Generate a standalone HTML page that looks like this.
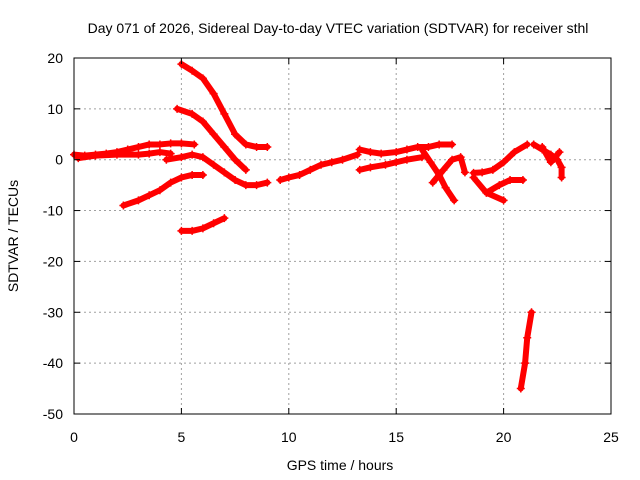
<!DOCTYPE html>
<html><head><meta charset="utf-8"><style>
body{margin:0;background:#fff}
svg{display:block;font-family:"Liberation Sans",sans-serif;font-size:14px}
</style></head><body>
<svg id="chart" width="640" height="480" viewBox="0 0 640 480">
<rect width="640" height="480" fill="#fff"/>
<text x="338" y="33" text-anchor="middle">Day 071 of 2026, Sidereal Day-to-day VTEC variation (SDTVAR) for receiver sthl</text>
<g id="grid"></g>
<g id="series"></g>
<rect x="74" y="58" width="537" height="356" fill="none" stroke="#000"/>
<g id="axes"></g>
<text x="340" y="470" text-anchor="middle">GPS time / hours</text>
<text transform="translate(18,236) rotate(-90)" text-anchor="middle">SDTVAR / TECUs</text>
</svg>
<script>
const xTicks=[0,5,10,15,20,25];
const yTicks=[20,10,0,-10,-20,-30,-40,-50];
const trackNames=["a","b","c","d","e","f","g","h","i","j","k","l","m","n","o","p","q","r"];
const trackX=[
[0,0.5,1,1.5,2,2.5,3,3.5,4,4.5,5,5.6],
[0.2,1,2,3,3.5,4,4.5],
[4.3,5,5.5,6,6.5,7,7.5,8,8.5,9],
[5,5.5,6,6.5,7,7.5,8,8.5,9],
[4.8,5.5,6,6.5,7,7.5,8],
[2.3,3,3.5,4,4.5,5,5.5,6],
[5,5.5,6,6.5,7],
[9.6,10,10.5,11,11.5,12,12.5,13.2],
[13.3,13.8,14.5,15,15.5,16.2],
[13.3,13.8,14.3,15,15.5,16,16.5,17,17.6],
[16.2,16.6,17,17.3,17.7],
[16.7,17.2,17.6,18,18.2],
[18.6,19,19.5,20,20.5,21.1],
[21.4,21.8,22.2,22.5,22.7,22.7],
[18.6,19.2,20],
[19.2,19.8,20.3,20.9],
[21.8,22.2,22.6],
[20.8,21,21.1,21.3]
];
const trackY=[
[1,0.8,1,1.2,1.5,2,2.5,3,3,3.2,3.2,3],
[0.3,0.8,1,1,1.2,1.5,1.2],
[0,0.5,1,0.5,-1,-2.5,-4,-5,-5,-4.5],
[18.8,17.5,16,13,9,5,3,2.5,2.5],
[10,9,7.5,5,2.5,0,-2],
[-9,-8,-7,-6,-4.5,-3.5,-3,-3],
[-14,-14,-13.5,-12.5,-11.5],
[-4,-3.5,-3,-2,-1,-0.5,0,1],
[-2,-1.5,-1,-0.5,0,0.5],
[2,1.5,1.2,1.5,2,2.5,2.5,3,3],
[2,-0.5,-3,-5.5,-8],
[-4.5,-2,0,0.5,-2.5],
[-2.6,-2.5,-2,-0.5,1.5,3],
[3,2,1,0,-1.5,-3.5],
[-3.5,-6.5,-8],
[-6.5,-5,-4,-4],
[2.5,-0.5,1.5],
[-45,-40,-35,-30]
];
const X=v=>74+v*537/25, Y=v=>159.7-v*356/70;
const ns="http://www.w3.org/2000/svg";
const grid=document.getElementById('grid'),axes=document.getElementById('axes'),ser=document.getElementById('series');
function mk(tag,at,p){const e=document.createElementNS(ns,tag);for(const k in at)e.setAttribute(k,at[k]);p.appendChild(e);return e;}
xTicks.forEach(t=>{
 const x=X(t);
 if(t>0&&t<25){const g=mk('line',{x1:x,x2:x,y1:58,y2:414,stroke:'#a0a0a0','stroke-dasharray':'2,3'},grid);
 
 }
 mk('line',{x1:x,x2:x,y1:414,y2:408,stroke:'#000'},axes);
 mk('line',{x1:x,x2:x,y1:58,y2:64,stroke:'#000'},axes);
 const l=mk('text',{x:x,y:442,'text-anchor':'middle'},axes);l.textContent=t;
 
 
});
yTicks.forEach(t=>{
 const y=Y(t);
 if(t<20&&t>-50){const g=mk('line',{x1:74,x2:611,y1:y,y2:y,stroke:'#a0a0a0','stroke-dasharray':'2,3'},grid);
 
 }
 mk('line',{x1:74,x2:80,y1:y,y2:y,stroke:'#000'},axes);
 mk('line',{x1:605,x2:611,y1:y,y2:y,stroke:'#000'},axes);
 const l=mk('text',{x:63,y:y+5,'text-anchor':'end'},axes);l.textContent=t;
 
 
});
trackX.forEach((xs,i)=>{
 const ys=trackY[i];
 const pts=xs.map((v,j)=>X(v)+','+Y(ys[j])).join(' ');
 const pl=mk('polyline',{points:pts,fill:'none',stroke:'#f00','stroke-width':6,'stroke-linejoin':'round','stroke-linecap':'round'},ser);
 
 
 xs.forEach((v,j)=>{
  const cx=X(v),cy=Y(ys[j]);
  const p=mk('path',{d:`M${cx-4},${cy}H${cx+4}M${cx},${cy-4}V${cy+4}`,stroke:'#f00','stroke-width':1.5},ser);
  
  
 });
});
</script>
</body></html>
